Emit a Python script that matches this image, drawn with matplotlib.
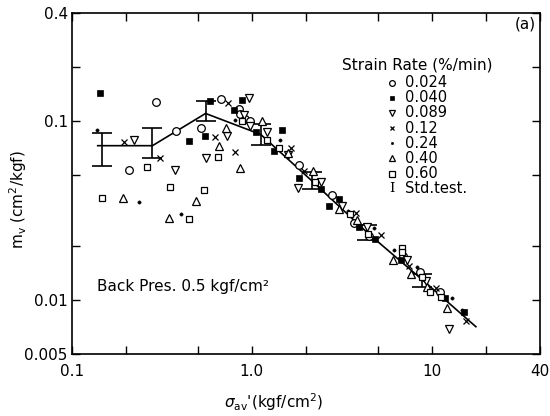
import matplotlib
matplotlib.use("Agg")
import matplotlib.pyplot as plt
from matplotlib.ticker import FixedLocator, FixedFormatter, NullLocator

plt.rcParams['font.family'] = ['DejaVu Sans']

# ---- data ----
rate_labels = ["0.024", "0.040", "0.089", "0.12", "0.24", "0.40", "0.60"]

c024_x = [0.292, 0.208, 0.381, 0.524, 0.670, 0.847, 0.855, 0.911, 0.971, 1.82, 2.78, 3.70, 4.46, 6.88, 8.59, 11.1]
c024_y = [0.128, 0.0532, 0.0873, 0.0907, 0.132, 0.116, 0.109, 0.102, 0.100, 0.0568, 0.0388, 0.0268, 0.0228, 0.01765, 0.0144, 0.01104]

c040_x = [0.143, 0.446, 0.547, 0.583, 0.880, 0.792, 1.048, 1.467, 1.336, 1.82, 2.43, 3.07, 2.67, 3.92, 4.83, 6.79, 11.8, 15.1]
c040_y = [0.144, 0.0774, 0.0825, 0.129, 0.130, 0.115, 0.0869, 0.0888, 0.0676, 0.0479, 0.0417, 0.0367, 0.0337, 0.0256, 0.0218, 0.0167, 0.0103, 0.00855]

c089_x = [0.222, 0.373, 0.558, 0.730, 0.959, 0.899, 0.971, 1.217, 1.58, 1.80, 2.43, 3.16, 4.37, 7.33, 9.27, 12.5]
c089_y = [0.0778, 0.0532, 0.0621, 0.0819, 0.135, 0.1076, 0.0938, 0.0862, 0.0645, 0.0421, 0.0455, 0.0337, 0.0256, 0.0167, 0.01276, 0.0069]

c12_x = [0.194, 0.310, 0.621, 0.802, 0.736, 1.654, 1.96, 3.79, 5.22, 7.49, 10.5, 15.5]
c12_y = [0.0764, 0.0618, 0.0809, 0.0667, 0.1265, 0.0703, 0.0528, 0.0307, 0.0232, 0.0155, 0.0117, 0.00764]

c24_x = [0.138, 0.235, 0.406, 0.802, 1.44, 3.41, 4.75, 6.19, 8.33, 12.9, 14.7]
c24_y = [0.089, 0.0352, 0.0303, 0.101, 0.0781, 0.0316, 0.0253, 0.019, 0.01533, 0.0103, 0.0088]

c40_x = [0.193, 0.347, 0.487, 0.656, 0.721, 0.855, 1.142, 1.58, 2.18, 3.04, 3.85, 6.11, 7.66, 9.47, 12.1]
c40_y = [0.0372, 0.0287, 0.0357, 0.0721, 0.0907, 0.0544, 0.100, 0.0662, 0.0528, 0.0323, 0.0280, 0.0167, 0.01406, 0.01186, 0.00908]

c60_x = [0.147, 0.260, 0.350, 0.446, 0.542, 0.648, 0.880, 1.217, 1.41, 2.23, 3.51, 4.44, 6.83, 6.83, 8.81, 9.76, 11.3]
c60_y = [0.0372, 0.0551, 0.043, 0.0282, 0.0414, 0.0626, 0.100, 0.0781, 0.0703, 0.0455, 0.0303, 0.0235, 0.01955, 0.01857, 0.0135, 0.01114, 0.01045]

std_x = [0.147, 0.28, 0.553, 1.12, 2.17, 4.38, 8.85]
std_lo = [0.0562, 0.0623, 0.0996, 0.0733, 0.0417, 0.0216, 0.0119]
std_hi = [0.0855, 0.0915, 0.129, 0.0958, 0.0517, 0.0261, 0.01406]

line_x = [0.139, 0.28, 0.553, 1.12, 2.17, 4.38, 8.85, 17.6]
line_y = [0.0727, 0.0727, 0.110, 0.084, 0.046, 0.0238, 0.013, 0.0071]

x_ticks = [0.1, 0.2, 0.5, 1, 2, 5, 10, 20, 40]
x_ticklabels = ["0.1", "", "", "1.0", "", "", "10", "", "40"]
y_ticks = [0.005, 0.01, 0.02, 0.05, 0.1, 0.2, 0.4]
y_ticklabels = ["0.005", "0.01", "", "", "0.1", "", "0.4"]

# ---- figure ----
fig = plt.figure(figsize=(5.5, 4.16), dpi=100)
ax = fig.add_axes([72/550, 1-354/416, 468/550, 341/416])
ax.set_xscale('log')
ax.set_yscale('log')
ax.set_xlim(0.1, 40)
ax.set_ylim(0.005, 0.4)

K = 'black'
styles = [
    dict(marker='o', ms=5.5, mfc='white', mec=K, mew=0.9),
    dict(marker='s', ms=4.2, mfc=K, mec=K, mew=0.5),
    dict(marker='v', ms=5.5, mfc='white', mec=K, mew=0.9),
    dict(marker='x', ms=4.5, mec=K, mew=0.9),
    dict(marker='o', ms=2.4, mfc=K, mec=K, mew=0.3),
    dict(marker='^', ms=5.5, mfc='white', mec=K, mew=0.9),
    dict(marker='s', ms=5.0, mfc='white', mec=K, mew=0.9),
]
series = [(c024_x, c024_y), (c040_x, c040_y), (c089_x, c089_y), (c12_x, c12_y),
          (c24_x, c24_y), (c40_x, c40_y), (c60_x, c60_y)]

# fitted line
ax.plot(line_x, line_y, color=K, lw=1.2, zorder=3)

# std test bars
ax.vlines(std_x, std_lo, std_hi, color=K, lw=1.2, zorder=3)
ax.plot(std_x, std_lo, ls='none', marker='_', ms=14, mew=1.2, color=K, zorder=3)
ax.plot(std_x, std_hi, ls='none', marker='_', ms=14, mew=1.2, color=K, zorder=3)

for (xs, ys), st in zip(series, styles):
    ax.plot(xs, ys, ls='none', zorder=4, **st)

# ticks
ax.xaxis.set_major_locator(FixedLocator(x_ticks))
ax.xaxis.set_major_formatter(FixedFormatter(x_ticklabels))
ax.xaxis.set_minor_locator(NullLocator())
ax.yaxis.set_major_locator(FixedLocator(y_ticks))
ax.yaxis.set_major_formatter(FixedFormatter(y_ticklabels))
ax.yaxis.set_minor_locator(NullLocator())
ax.tick_params(which='major', direction='in', length=6, width=1.0,
               top=True, right=True, labelsize=11)
ax.tick_params(axis='x', pad=7)
ax.tick_params(axis='y', pad=3)
for s in ax.spines.values():
    s.set_linewidth(1.2)

# legend (manual)
tr = ax.transAxes
ax.text(0.576, 0.8475, "Strain Rate (%/min)", transform=tr, fontsize=11, ha='left', va='center')
y0, dy = 0.796, 0.0445
rows_y = [y0 - i * dy for i in range(len(rate_labels) + 1)]
for lab, st, yy in zip(rate_labels, styles, rows_y):
    st2 = dict(st)
    st2['ms'] = st['ms'] * 0.75
    ax.plot([0.683], [yy], transform=tr, ls='none', clip_on=False, **st2)
    ax.text(0.7115, yy, lab, transform=tr, fontsize=10.5, ha='left', va='center')
ax.text(0.683, rows_y[-1], "I", transform=tr, fontsize=9.5, ha='center', va='center', family='DejaVu Serif')
ax.text(0.7115, rows_y[-1], "Std.test.", transform=tr, fontsize=10.5, ha='left', va='center')

ax.text(0.968, 0.968, "(a)", transform=tr, fontsize=11, ha='center', va='center')
ax.text(0.0534, 0.199, "Back Pres. 0.5 kgf/cm²", transform=tr, fontsize=11, ha='left', va='center')

fig.text(18/550, 1-200/416, r"m$_\mathregular{v}$ (cm$^\mathregular{2}$/kgf)", rotation=90,
         fontsize=11, ha='center', va='center')
fig.text(274/550, 1-402/416, r"$\sigma_{\mathregular{av}}$'(kgf/cm$^\mathregular{2}$)",
         fontsize=11, ha='center', va='center')

fig.savefig("out.png", dpi=100)
